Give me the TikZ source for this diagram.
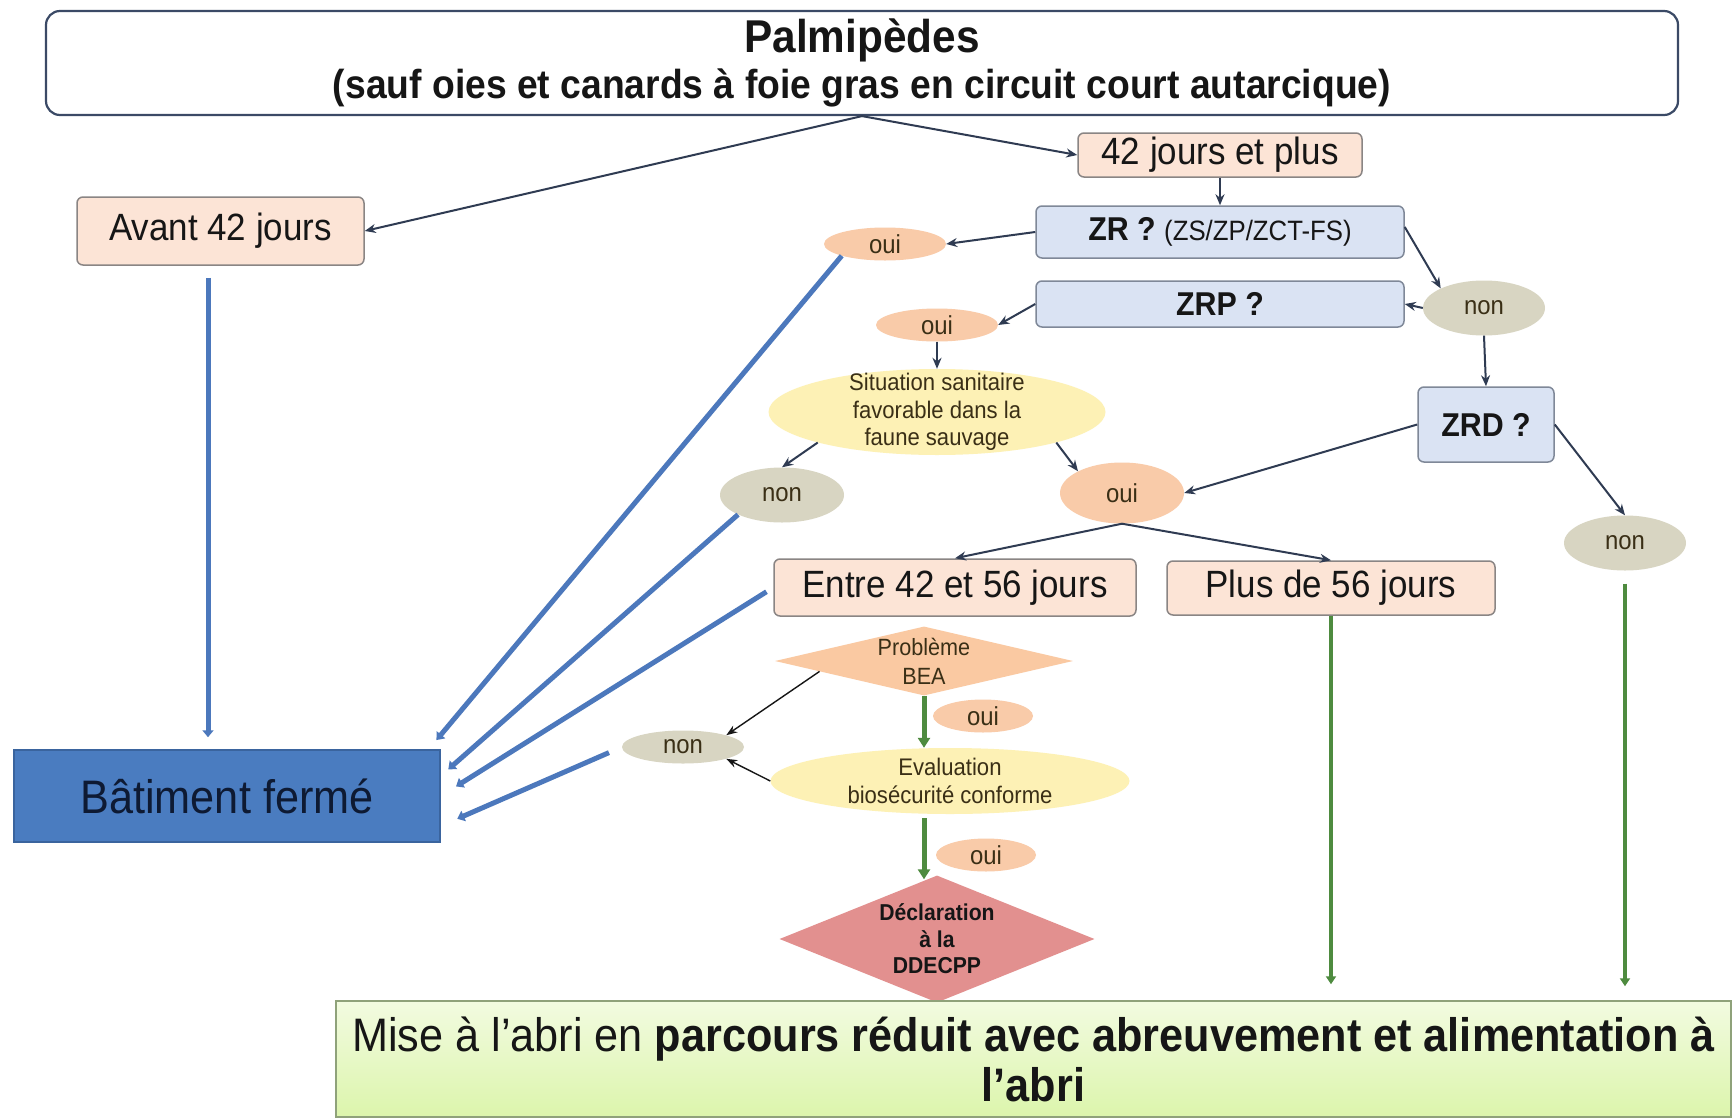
\documentclass[tikz,border=0pt]{standalone}
\usepackage{fontspec}
\setmainfont{Liberation Sans}[FakeStretch=0.92]
\usetikzlibrary{shapes.geometric,arrows.meta,calc}
\definecolor{txt}{HTML}{161616}
\definecolor{topborder}{HTML}{3B4A66}
\definecolor{peachc}{HTML}{FCE4D6}
\definecolor{boxgray}{HTML}{8A8584}
\definecolor{bluec}{HTML}{DAE3F3}
\definecolor{bluegray}{HTML}{7F8898}
\definecolor{ouic}{HTML}{F9CBA9}
\definecolor{nonc}{HTML}{D8D5C2}
\definecolor{yelc}{HTML}{FDF1B5}
\definecolor{ellt}{HTML}{3A2F16}
\definecolor{beac}{HTML}{FAC9A2}
\definecolor{declc}{HTML}{E2908F}
\definecolor{batc}{HTML}{4A7CC0}
\definecolor{batb}{HTML}{3A649E}
\definecolor{batt}{HTML}{0E1A33}
\definecolor{arrc}{HTML}{2F3B52}
\definecolor{bluel}{HTML}{4C78BC}
\definecolor{greenl}{HTML}{4E8B3F}
\definecolor{greentop}{HTML}{F2FBE0}
\definecolor{greenbot}{HTML}{DCF5AC}
\definecolor{greenborder}{HTML}{8FA27A}
\newcommand\myfs[2]{\fontsize{#1}{#2}\selectfont}
\begin{document}
\begin{tikzpicture}[x=1pt,y=-1pt,
  peachbox/.style={draw=boxgray, fill=peachc, line width=1.5pt, rounded corners=6pt, inner sep=0pt, font=\myfs{38}{44}, text=txt},
  bluebox/.style={draw=bluegray, fill=bluec, line width=1.5pt, rounded corners=6pt, inner sep=0pt, font=\bfseries\myfs{33}{40}, text=txt},
  ouiell/.style={ellipse, fill=ouic, inner sep=0pt, font=\myfs{26}{30}, text=ellt},
  nonell/.style={ellipse, fill=nonc, inner sep=0pt, font=\myfs{26}{30}, text=ellt},
  yell/.style={ellipse, fill=yelc, inner sep=0pt},
  smalltext/.style={align=center, text=ellt, inner sep=0pt},
  arr/.style={draw=arrc, line width=2pt, -{Stealth[length=11pt,width=9pt]}},
  thinarr/.style={draw=txt, line width=1.4pt, -{Stealth[length=11pt,width=8pt]}},
  bluearr/.style={draw=bluel, line width=5pt, -{Triangle[length=7pt,width=11pt]}},
  greenarr/.style={draw=greenl, line width=5pt, -{Triangle[length=10pt,width=12pt]}},
  greenthin/.style={draw=greenl, line width=4pt, -{Triangle[length=8pt,width=10pt]}}
]
\useasboundingbox (0,0) rectangle (1733,1119);
\fill[white] (0,0) rectangle (1733,1119);

% top box
\node[draw=topborder, line width=2.2pt, rounded corners=14pt, fill=white, minimum width=1632pt, minimum height=104pt, inner sep=0pt] (top) at (862,63) {};
\node[font=\bfseries\myfs{46}{50}, text=txt, inner sep=0pt] (title) at (862,40) {Palmipèdes};
\node[font=\bfseries\myfs{40.5}{46}, text=txt, inner sep=0pt] (subtitle) at (862,88) {(sauf oies et canards à foie gras en circuit court autarcique)};

% boxes
\node[peachbox, minimum width=287pt, minimum height=68pt] (avant) at (220.5,231) {Avant 42 jours};
\node[peachbox, minimum width=284pt, minimum height=44pt] (plus42) at (1220,155) {42 jours et plus};
\node[peachbox, minimum width=362pt, minimum height=57pt] (entre) at (955,587.5) {Entre 42 et 56 jours};
\node[peachbox, minimum width=328pt, minimum height=54pt] (plus56) at (1331,588) {Plus de 56 jours};

\node[bluebox, minimum width=368pt, minimum height=52pt] (zr) at (1220,232) {ZR ? {\mdseries\myfs{28}{32}(ZS/ZP/ZCT-FS)}};
\node[bluebox, minimum width=368pt, minimum height=46pt] (zrp) at (1220,304) {ZRP ?};
\node[bluebox, minimum width=136pt, minimum height=75pt] (zrd) at (1486,424.5) {ZRD ?};

% ellipses
\node[ouiell, minimum width=122pt, minimum height=33pt] (oui1) at (885,244) {oui};
\node[ouiell, minimum width=122pt, minimum height=33pt] (oui2) at (937,325) {oui};
\node[nonell, minimum width=122pt, minimum height=55pt] (nonA) at (1484,308) {non};
\node[yell, minimum width=337pt, minimum height=86pt] (sit) at (937,412) {};
\node[smalltext, font=\myfs{24}{27.6}] (sittext) at (sit.center) {Situation sanitaire\\favorable dans la\\faune sauvage};
\node[nonell, minimum width=124pt, minimum height=55pt] (nonB) at (782,495) {non};
\node[ouiell, minimum width=124pt, minimum height=61pt] (ouiM) at (1122,493) {oui};
\node[nonell, minimum width=122pt, minimum height=55pt] (nonC) at (1625,543) {non};

\node[diamond, fill=beac, minimum width=298pt, minimum height=69pt, inner sep=0pt] (bea) at (924,661) {};
\node[smalltext, font=\myfs{23.5}{28.7}] (beatext) at (bea.center) {Problème\\BEA};
\node[ouiell, minimum width=100pt, minimum height=33pt] (ouiS1) at (983,716) {oui};
\node[nonell, minimum width=122pt, minimum height=33pt] (nonS) at (683,747) {non};
\node[yell, minimum width=359pt, minimum height=66pt] (eval) at (950,781) {};
\node[smalltext, font=\myfs{24}{27.6}] (evaltext) at (eval.center) {Evaluation\\biosécurité conforme};
\node[ouiell, minimum width=100pt, minimum height=33pt] (ouiS2) at (986,855) {oui};
\node[diamond, fill=declc, minimum width=315pt, minimum height=127pt, inner sep=0pt] (decl) at (937,939) {};
\node[smalltext, font=\bfseries\myfs{23}{26.5}, text=txt] (decltext) at (decl.center) {Déclaration\\à la\\DDECPP};

\node[draw=batb, fill=batc, line width=1.5pt, minimum width=426pt, minimum height=92pt, inner sep=0pt, font=\myfs{47}{52}, text=batt] (bat) at (227,796) {Bâtiment fermé};

\node[draw=greenborder, line width=1.5pt, top color=greentop, bottom color=greenbot, minimum width=1395pt, minimum height=116pt, inner sep=0pt, align=center, font=\myfs{47}{50}, text=txt] (mise) at (1033.5,1059) {Mise à l’abri en \textbf{parcours réduit avec abreuvement et alimentation à}\\\textbf{l’abri}};

% thin arrows
\draw[arr] (top.south) -- (avant.east);
\draw[arr] (top.south) -- (plus42.west);
\draw[arr] (plus42.south) -- (zr.north);
\draw[arr] (zr.west) -- (oui1.east);
\draw[arr] ($(zr.east)+(0,-5)$) -- (nonA.north west);
\draw[arr] (nonA.west) -- (zrp.east);
\draw[arr] (nonA.south) -- (zrd.north);
\draw[arr] (zrp.west) -- (oui2.east);
\draw[arr] (oui2.south) -- (sit.north);
\draw[arr] (sit.south west) -- (nonB.north);
\draw[arr] (sit.south east) -- (ouiM.north west);
\draw[arr] (zrd.west) -- (ouiM.east);
\draw[arr] (zrd.east) -- (nonC.north);
\draw[arr] (ouiM.south) -- (entre.north);
\draw[arr] (ouiM.south) -- (plus56.north);

\draw[thinarr] ($(bea.west)!0.3!(bea.south)$) -- (nonS.north east);
\draw[thinarr] (eval.west) -- (nonS.south east);

% blue lines to Batiment
\draw[bluearr, shorten <=12pt, shorten >=12pt] ($(avant.south)+(-12.5,0)$) -- ($(bat.north)+(-19,0)$);
\draw[bluearr, shorten >=12pt] (oui1.south west) -- ($(bat.north east)+(-12,0)$);
\draw[bluearr, shorten >=10pt] (nonB.south west) -- ($(bat.east)+(0,-20)$);
\draw[bluearr, shorten <=8pt, shorten >=18pt] (entre.west) -- (bat.east);
\draw[bluearr, shorten <=14pt, shorten >=18pt] (nonS.west) -- ($(bat.east)+(0,30)$);

% green arrows
\draw[greenarr] (bea.south) -- (bea.south |- eval.north);
\draw[greenarr, shorten <=4pt] (bea.south |- eval.south) -- ($(bea.south |- decl.north)+(0,4)$);
\draw[greenthin, shorten >=16pt] (plus56.south) -- (plus56.south |- mise.north);
\draw[greenthin, shorten <=13pt, shorten >=14pt] (nonC.south) -- (nonC.south |- mise.north);
\end{tikzpicture}
\end{document}
